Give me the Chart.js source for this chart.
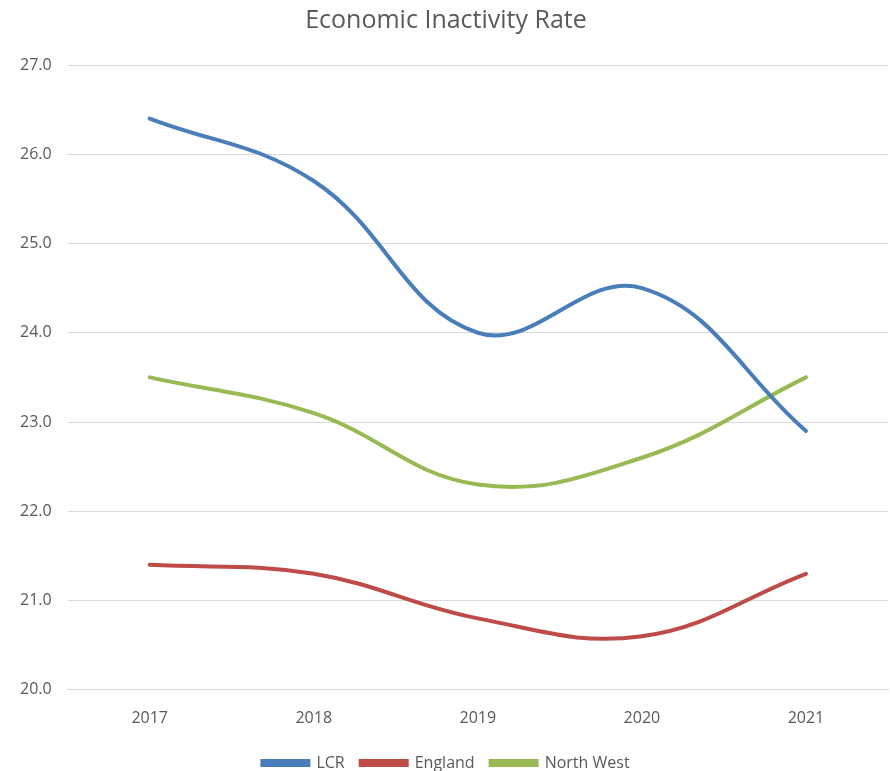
<!DOCTYPE html>
<html>
<head>
<meta charset="utf-8">
<script src="https://cdn.jsdelivr.net/npm/chart.js@4/dist/chart.umd.min.js"></script>
<style>
  html, body { margin: 0; padding: 0; background: #fff; }
  #wrap { width: 890px; height: 771px; }
</style>
</head>
<body>
<div id="wrap"><canvas id="chart"></canvas></div>
<script>
// data
const years = ['2017', '2018', '2019', '2020', '2021'];
const lcr = [26.4, 25.7, 24.0, 24.5, 22.9];
const england = [21.4, 21.3, 20.8, 20.6, 21.3];
const northWest = [23.5, 23.1, 22.3, 22.6, 23.5];

const textColor = '#595959';
const fontFamily = '"Open Sans", "Liberation Sans", sans-serif';

const ctx = document.getElementById('chart').getContext('2d');
new Chart(ctx, {
  type: 'line',
  data: {
    labels: years,
    datasets: [
      { label: 'LCR', data: lcr, borderColor: '#4A7EBB', backgroundColor: '#4A7EBB' },
      { label: 'England', data: england, borderColor: '#BE4B48', backgroundColor: '#BE4B48' },
      { label: 'North West', data: northWest, borderColor: '#98B954', backgroundColor: '#98B954' }
    ]
  },
  options: {
    responsive: true,
    maintainAspectRatio: false,
    animation: false,
    layout: { padding: { left: 4, right: 2, top: 0, bottom: -10 } },
    elements: {
      line: { borderWidth: 4, tension: 0.4, borderCapStyle: 'round' },
      point: { radius: 0, hoverRadius: 0 }
    },
    plugins: {
      title: {
        display: true,
        text: 'Economic Inactivity Rate',
        color: textColor,
        font: { family: fontFamily, size: 25, weight: 'normal' },
        padding: { top: 6, bottom: 29 }
      },
      legend: {
        position: 'bottom',
        labels: {
          color: textColor,
          font: { family: fontFamily, size: 16 },
          boxWidth: 46,
          boxHeight: 4,
          padding: 16
        }
      },
      tooltip: { enabled: false }
    },
    scales: {
      x: {
        offset: true,
        grid: { display: false },
        border: { color: '#d9d9d9', width: 1 },
        ticks: { color: textColor, font: { family: fontFamily, size: 16 }, padding: 11 }
      },
      y: {
        min: 20,
        max: 27,
        ticks: {
          stepSize: 1,
          color: textColor,
          font: { family: fontFamily, size: 16 },
          padding: 16,
          callback: v => v.toFixed(1)
        },
        grid: { color: '#d9d9d9', drawTicks: false },
        border: { display: false }
      }
    }
  }
});
</script>
</body>
</html>
